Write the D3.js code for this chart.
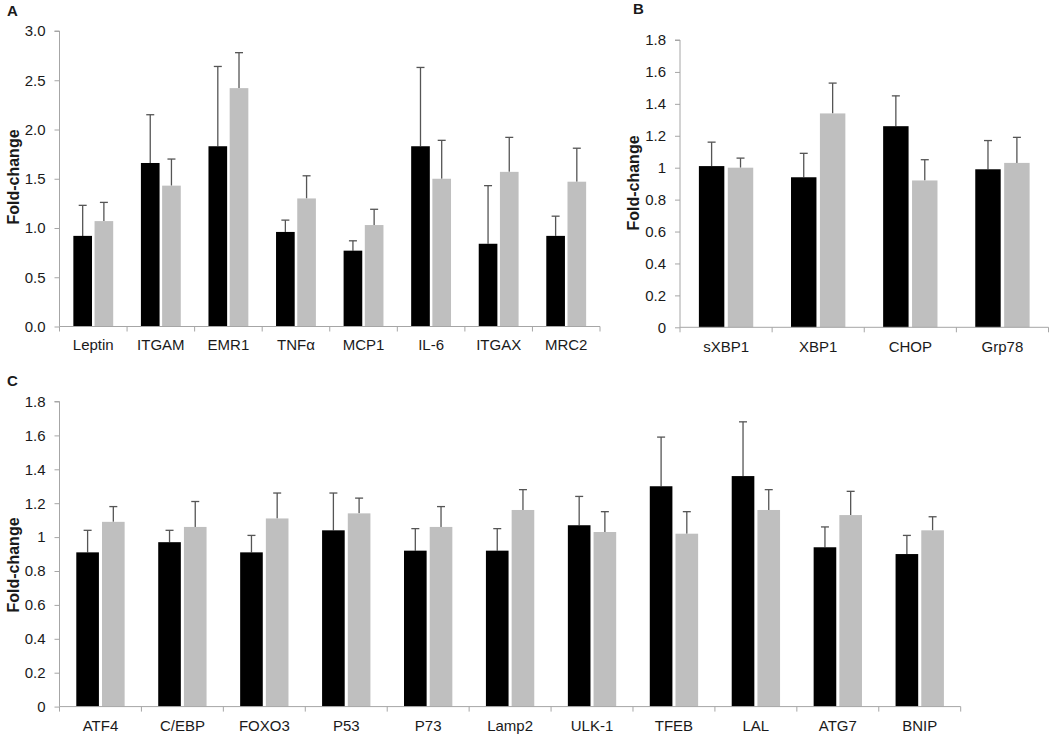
<!DOCTYPE html>
<html>
<head>
<meta charset="utf-8">
<script src="https://cdn.jsdelivr.net/npm/d3@7"></script>
<style>
  html, body { margin: 0; padding: 0; background: #fff; }
  svg { display: block; }
  text { font-family: "Liberation Sans", Arial, sans-serif; }
</style>
</head>
<body>
<svg id="chart" width="1050" height="737"></svg>
<script>
// ---------- DATA ----------
const series = ["Group 1", "Group 2"];

// Panel A
const catsA = ["Leptin", "ITGAM", "EMR1", "TNFα", "MCP1", "IL-6", "ITGAX", "MRC2"];
const valsA1 = [0.92, 1.66, 1.83, 0.96, 0.77, 1.83, 0.84, 0.92];
const errA1  = [0.31, 0.49, 0.81, 0.12, 0.10, 0.80, 0.59, 0.20];
const valsA2 = [1.07, 1.43, 2.42, 1.30, 1.03, 1.50, 1.57, 1.47];
const errA2  = [0.19, 0.27, 0.36, 0.23, 0.16, 0.39, 0.35, 0.34];
const ticksA = [0, 0.5, 1.0, 1.5, 2.0, 2.5, 3.0];

// Panel B
const catsB = ["sXBP1", "XBP1", "CHOP", "Grp78"];
const valsB1 = [1.01, 0.94, 1.26, 0.99];
const errB1  = [0.15, 0.15, 0.19, 0.18];
const valsB2 = [1.00, 1.34, 0.92, 1.03];
const errB2  = [0.06, 0.19, 0.13, 0.16];
const ticksB = [0, 0.2, 0.4, 0.6, 0.8, 1, 1.2, 1.4, 1.6, 1.8];

// Panel C
const catsC = ["ATF4", "C/EBP", "FOXO3", "P53", "P73", "Lamp2", "ULK-1", "TFEB", "LAL", "ATG7", "BNIP"];
const valsC1 = [0.91, 0.97, 0.91, 1.04, 0.92, 0.92, 1.07, 1.30, 1.36, 0.94, 0.90];
const errC1  = [0.13, 0.07, 0.10, 0.22, 0.13, 0.13, 0.17, 0.29, 0.32, 0.12, 0.11];
const valsC2 = [1.09, 1.06, 1.11, 1.14, 1.06, 1.16, 1.03, 1.02, 1.16, 1.13, 1.04];
const errC2  = [0.09, 0.15, 0.15, 0.09, 0.12, 0.12, 0.12, 0.13, 0.12, 0.14, 0.08];
const ticksC = [0, 0.2, 0.4, 0.6, 0.8, 1, 1.2, 1.4, 1.6, 1.8];

// ---------- DRAW ----------
const svg = d3.select("#chart");
const colors = ["#000000", "#bfbfbf"];
const axisColor = "#a6a6a6";
const errColor = "#555555";

function panel(opts) {
  const { cats, v1, e1, v2, e2, ticks, yMax, x0, x1, yTop, yBottom, fmt,
          letter, letterPos, labelPos, catBase } = opts;
  const g = svg.append("g");
  const x = d3.scaleBand().domain(cats).range([x0, x1]).paddingInner(0).paddingOuter(0);
  const cw = x.bandwidth();
  const xs = d3.scaleBand().domain(series).range([cw * 0.205, cw * 0.795]).paddingInner(0.12);
  const y = d3.scaleLinear().domain([0, yMax]).range([yBottom, yTop]);

  const rows = [];
  cats.forEach((c, i) => {
    rows.push({ c, s: series[0], v: v1[i], e: e1[i], col: colors[0] });
    rows.push({ c, s: series[1], v: v2[i], e: e2[i], col: colors[1] });
  });

  // error bars (behind bars)
  const eb = g.append("g");
  rows.forEach(r => {
    const cx = x(r.c) + xs(r.s) + xs.bandwidth() / 2;
    eb.append("line").attr("x1", cx).attr("x2", cx)
      .attr("y1", y(r.v)).attr("y2", y(r.v + r.e))
      .attr("stroke", errColor).attr("stroke-width", 1.3);
    eb.append("line").attr("x1", cx - 4).attr("x2", cx + 4)
      .attr("y1", y(r.v + r.e)).attr("y2", y(r.v + r.e))
      .attr("stroke", errColor).attr("stroke-width", 1.3);
  });

  g.append("g").selectAll("rect").data(rows).join("rect")
    .attr("x", d => x(d.c) + xs(d.s))
    .attr("width", xs.bandwidth())
    .attr("y", d => y(d.v))
    .attr("height", d => y(0) - y(d.v))
    .attr("fill", d => d.col);

  // y axis
  const ya = g.append("g").attr("transform", `translate(${x0},0)`)
    .call(d3.axisLeft(y).tickValues(ticks).tickFormat(fmt).tickSize(5).tickPadding(9));
  ya.select(".domain").attr("stroke", axisColor).attr("d", `M-5,${yTop}H0V${yBottom}`);
  ya.selectAll(".tick line").attr("stroke", axisColor);
  ya.selectAll(".tick text").attr("fill", "#1a1a1a").style("font-size", "15px")
    .style("font-family", "'Liberation Sans', Arial, sans-serif");

  // x axis
  const xa = g.append("g").attr("transform", `translate(0,${yBottom})`);
  xa.append("line").attr("x1", x0).attr("x2", x1).attr("y1", 0).attr("y2", 0)
    .attr("stroke", axisColor);
  const bounds = cats.map(c => x(c)).concat([x1]);
  xa.selectAll("line.tk").data(bounds).join("line").attr("class", "tk")
    .attr("x1", d => d).attr("x2", d => d).attr("y1", 0).attr("y2", 5)
    .attr("stroke", axisColor);
  xa.selectAll("text").data(cats).join("text")
    .attr("x", d => x(d) + cw / 2).attr("y", catBase - yBottom)
    .attr("text-anchor", "middle").attr("fill", "#1a1a1a")
    .style("font-size", "15px").text(d => d);

  // y label
  g.append("text").attr("transform", `translate(${labelPos[0]},${labelPos[1]}) rotate(-90)`)
    .attr("text-anchor", "middle").attr("dy", "0.35em")
    .style("font-size", "16px").style("font-weight", "bold").attr("fill", "#1a1a1a")
    .text("Fold-change");

  // panel letter
  g.append("text").attr("x", letterPos[0]).attr("y", letterPos[1])
    .style("font-size", "15px").style("font-weight", "bold").attr("fill", "#1a1a1a")
    .text(letter);
}

panel({ cats: catsA, v1: valsA1, e1: errA1, v2: valsA2, e2: errA2, ticks: ticksA, yMax: 3.0,
        x0: 59.5, x1: 600, yTop: 31, yBottom: 326.5, fmt: d3.format(".1f"),
        letter: "A", letterPos: [7, 15.5], labelPos: [13, 177], catBase: 349.5 });

panel({ cats: catsB, v1: valsB1, e1: errB1, v2: valsB2, e2: errB2, ticks: ticksB, yMax: 1.8,
        x0: 680, x1: 1048.5, yTop: 40, yBottom: 327.3, fmt: d => String(+d.toFixed(1)),
        letter: "B", letterPos: [633, 13.5], labelPos: [633, 183], catBase: 352 });

panel({ cats: catsC, v1: valsC1, e1: errC1, v2: valsC2, e2: errC2, ticks: ticksC, yMax: 1.8,
        x0: 59.5, x1: 960.7, yTop: 401.5, yBottom: 706.6, fmt: d => String(+d.toFixed(1)),
        letter: "C", letterPos: [7, 385.5], labelPos: [13, 565], catBase: 731.5 });
</script>
</body>
</html>
